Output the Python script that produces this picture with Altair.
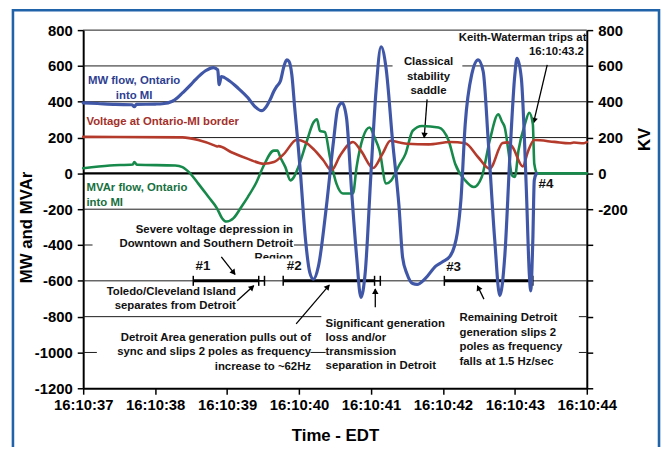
import math
import altair as alt
import pandas as pd

# ---------------- data ----------------
# MW flow, Ontario into MI (blue)
mw_t = [37.00, 37.20, 37.45, 37.68, 37.71, 37.74, 38.00, 38.10, 38.24, 38.31, 38.38, 38.50,
        38.56, 38.70, 38.81, 38.87, 38.89, 38.92, 39.03, 39.15, 39.29, 39.38, 39.48, 39.55,
        39.60, 39.65, 39.69, 39.74, 39.79, 39.83, 39.86, 39.90, 39.94, 39.99, 40.02, 40.09,
        40.15, 40.20, 40.27, 40.38, 40.48, 40.54, 40.60, 40.66, 40.73, 40.80, 40.86, 40.92,
        41.00, 41.07, 41.14, 41.21, 41.30, 41.39, 41.44, 41.50, 41.58, 41.64, 41.76, 41.90,
        41.99, 42.10, 42.16, 42.20, 42.25, 42.31, 42.40, 42.49, 42.56, 42.63, 42.72, 42.79,
        42.86, 42.93, 43.00, 43.03, 43.09, 43.16, 43.20, 43.22, 43.25, 43.27, 43.30]
mw_v = [394, 390, 385, 383, 372, 385, 387, 389, 403, 422, 449, 497,
        523, 573, 591, 578, 495, 541, 517, 477, 422, 376, 350, 376,
        413, 459, 486, 514, 597, 634, 625, 551, 366, 146, 0, -370,
        -554, -591, -518, -186, 182, 366, 394, 311, -94, -462, -692, -554,
        0, 459, 707, 587, 182, -186, -470, -560, -615, -620, -585, -518,
        -495, -462, -407, -333, -150, 275, 551, 634, 569, 182, -370, -683,
        -462, 90, 551, 643, 532, -94, -554, -656, -370, -39, 0]

# Voltage at Ontario-MI border (red, KV)
kv_t = [37.00, 38.38, 38.60, 38.83, 38.86, 38.88, 39.06, 39.29, 39.51, 39.65, 39.79, 39.97,
        40.09, 40.20, 40.34, 40.45, 40.57, 40.75, 40.86, 41.03, 41.16, 41.27, 41.40, 41.50,
        41.80, 42.10, 42.31, 42.49, 42.65, 42.83, 42.90, 42.97, 43.11, 43.18, 43.27, 43.55,
        43.76, 43.82, 43.96, 44.00]
kv_v = [204, 201, 186, 155, 150, 152, 118, 81, 54, 63, 109, 188,
        173, 136, 72, 17, 99, 175, 127, 30, 109, 182, 172, 165,
        162, 175, 168, 90, 26, 170, 173, 146, 39, 120, 186, 176,
        168, 172, 168, 175]

# MVAr flow, Ontario into MI (green)
mvar_t = [37.00, 37.37, 37.69, 37.71, 37.75, 38.28, 38.38, 38.47, 38.60, 38.74, 38.86, 38.93,
          38.99, 39.09, 39.20, 39.29, 39.41, 39.51, 39.65, 39.70, 39.74, 39.81, 39.88, 39.93,
          39.99, 40.11, 40.20, 40.25, 40.29, 40.36, 40.43, 40.52, 40.61, 40.75, 40.80, 40.89,
          40.98, 41.05, 41.12, 41.21, 41.28, 41.39, 41.48, 41.58, 41.71, 41.94, 42.08, 42.17,
          42.31, 42.43, 42.54, 42.65, 42.77, 42.82, 42.86, 42.91, 42.96, 43.00, 43.05, 43.14,
          43.20, 43.25, 43.27, 43.31, 44.00]
mvar_v = [29, 44, 50, 63, 48, 44, 35, 7, -57, -131, -195, -250,
          -269, -250, -186, -131, -48, 44, 127, 127, 90, 35, -39, -20,
          35, 182, 284, 302, 238, 230, 90, -57, -112, -112, 35, 201,
          256, 201, 127, -57, -40, 44, 109, 238, 265, 256, 182, 54,
          -39, -76, -20, 182, 330, 290, 256, 127, -11, -20, 127, 275,
          339, 275, 54, 0, 0]

# axis ticks
x_ticks = [37, 38, 39, 40, 41, 42, 43, 44]
y_ticks = [-1200, -1000, -800, -600, -400, -200, 0, 200, 400, 600, 800]

# horizontal grid segments (broken where the reference has text boxes)
grid_level = [800, 600, 600, 400, 200, -200, -400, -400, -600, -800, -800, -1000, -1000, -1000]
grid_from = [37, 37, 42.27, 37, 37, 37, 37, 39.93, 37, 37, 43.89, 37, 40.16, 43.89]
grid_to = [44, 41.30, 44, 44, 44, 44, 37.13, 44, 44, 40.31, 44, 37.19, 40.37, 44]

# event timeline (#1, #2, #3) at -600
seg_from = [38.53, 39.78, 42.02]
seg_to = [39.44, 41.05, 43.25]
link_from = [39.44, 41.05]
link_to = [39.52, 41.13]
bar_t = [38.53, 39.44, 39.52, 39.78, 41.05, 41.13, 42.02, 43.25]

# annotation arrows (start -> end)
arr_t0 = [38.92, 39.14, 39.96, 41.06, 42.57, 41.78, 43.45]
arr_v0 = [-466, -711, -840, -748, -702, 413, 606]
arr_t1 = [39.11, 39.37, 40.42, 41.06, 42.48, 41.74, 43.26]
arr_v1 = [-564, -628, -624, -646, -628, 200, 283]

# annotation texts, one row per line
ann_text = ["MW flow, Ontario", "into MI",
            "Voltage at Ontario-MI border",
            "MVAr flow, Ontario", "into MI",
            "Severe voltage depression in", "Downtown and Southern Detroit", "Region",
            "Toledo/Cleveland Island", "separates from Detroit",
            "Detroit Area generation pulls out of", "sync and slips 2 poles as frequency", "increase to ~62Hz",
            "Significant generation", "loss and/or", "transmission", "separation in Detroit",
            "Remaining Detroit", "generation slips 2", "poles as frequency", "falls at 1.5 Hz/sec",
            "Classical", "stability", "saddle",
            "Keith-Waterman trips at", "16:10:43.2",
            "#1", "#2", "#3", "#4"]
ann_t = [37.708, 37.708, 37.045, 37.045, 37.045,
         39.916, 39.916, 39.916, 39.122, 39.122,
         40.167, 40.167, 40.167,
         40.369, 40.369, 40.369, 40.369,
         42.230, 42.230, 42.230, 42.230,
         41.80, 41.80, 41.80,
         43.995, 43.96,
         38.664, 39.933, 42.148, 43.432]
ann_v = [514, 434, 287, -81, -164,
         -315, -394, -473, -661, -742,
         -917, -1000, -1079,
         -840, -917, -996, -1076,
         -808, -890, -969, -1051,
         619, 538, 459,
         757, 676,
         -518, -518, -523, -57]
ann_align = ["center", "center", "left", "left", "left",
             "right", "right", "right", "right", "right",
             "right", "right", "right",
             "left", "left", "left", "left",
             "left", "left", "left", "left",
             "center", "center", "center",
             "right", "right",
             "center", "center", "center", "center"]
ann_color = ["#2f3f92", "#2f3f92", "#a4302a", "#177040", "#177040"] + ["#111111"] * 25
ann_size = [11.5] * 26 + [13.5] * 4

# white patch hiding the lower half of "Region" (as in the reference)
mask_t0, mask_t1, mask_v0, mask_v1 = [39.32], [39.97], [-476], [-516]

# ---------------- chart ----------------
W, H = 509, 362
FONT = "Liberation Sans"
xs = alt.Scale(domain=[37, 44], nice=False, zero=False)
ys = alt.Scale(domain=[-1200, 800], nice=False, zero=False)

x_axis = alt.Axis(values=x_ticks, labelExpr="'16:10:' + datum.value", title="Time - EDT",
                  grid=False, domainColor="black", domainWidth=2, tickColor="black",
                  tickWidth=1.5, tickSize=6, labelFont=FONT, labelFontSize=15,
                  labelFontWeight="bold", labelColor="black", labelPadding=3,
                  labelFlush=False, labelOverlap=False,
                  titleFont=FONT, titleFontSize=17, titleFontWeight="bold",
                  titleColor="black", titleY=40, titleBaseline="top")
y_axis = alt.Axis(values=y_ticks, labelExpr="'' + datum.value", orient="left", title="MW and MVAr",
                  grid=False, domainColor="black", domainWidth=2, tickColor="black",
                  tickWidth=1.5, tickSize=6, labelFont=FONT, labelFontSize=15,
                  labelFontWeight="bold", labelColor="black", labelPadding=5,
                  labelOverlap=False,
                  titleFont=FONT, titleFontSize=17, titleFontWeight="bold", titleColor="black",
                  titleAngle=270, titleX=-57, titleY=199, titleAlign="center",
                  titleBaseline="middle")
y_axis_r = alt.Axis(values=y_ticks, labelExpr="datum.value < -300 ? '' : '' + datum.value",
                    orient="right", title="KV",
                    grid=False, domainColor="black", domainWidth=2, tickColor="black",
                    tickWidth=1.5, tickSize=6, labelFont=FONT, labelFontSize=15,
                    labelFontWeight="bold", labelColor="black", labelPadding=5,
                    labelOverlap=False,
                    titleFont=FONT, titleFontSize=17, titleFontWeight="bold", titleColor="black",
                    titleAngle=270, titleX=58, titleY=110, titleAlign="center",
                    titleBaseline="middle")


def X(field="t"):
    return alt.X(f"{field}:Q", scale=xs, axis=x_axis)


def Y(field="v", axis=y_axis):
    return alt.Y(f"{field}:Q", scale=ys, axis=axis)


grid_df = pd.DataFrame({"v": grid_level, "t0": grid_from, "t1": grid_to})
grid = alt.Chart(grid_df).mark_rule(color="#1a1a1a", strokeWidth=1).encode(
    x=X("t0"), x2="t1", y=Y())

zero = alt.Chart(pd.DataFrame({"v": [0], "t0": [37], "t1": [44]})).mark_rule(
    color="black", strokeWidth=2.2).encode(x=X("t0"), x2="t1", y=Y())

seg_df = pd.DataFrame({"t0": seg_from, "t1": seg_to, "v": [-600] * len(seg_from)})
segs = alt.Chart(seg_df).mark_rule(color="black", strokeWidth=3).encode(
    x=X("t0"), x2="t1", y=Y())
link_df = pd.DataFrame({"t0": link_from, "t1": link_to, "v": [-600] * len(link_from)})
links = alt.Chart(link_df).mark_rule(color="black", strokeWidth=1.5).encode(
    x=X("t0"), x2="t1", y=Y())
bar_df = pd.DataFrame({"t": bar_t, "v0": [-628] * len(bar_t), "v1": [-572] * len(bar_t)})
bars = alt.Chart(bar_df).mark_rule(color="black", strokeWidth=1.5).encode(
    x=X(), y=Y("v0"), y2="v1")

# arrows
pxt, pxv = W / 7.0, H / 2000.0
heads = []
for a, b, c, d in zip(arr_t0, arr_v0, arr_t1, arr_v1):
    dxp = (c - a) * pxt
    dyp = -(d - b) * pxv
    ln = math.hypot(dxp, dyp)
    ang = math.degrees(math.atan2(dxp, -dyp)) % 360
    back = 3.0 / ln
    heads.append({"t": c - (c - a) * back, "v": d - (d - b) * back, "ang": ang})
arr_df = pd.DataFrame({"t0": arr_t0, "v0": arr_v0, "t1": arr_t1, "v1": arr_v1})
arrows = alt.Chart(arr_df).mark_rule(color="black", strokeWidth=1.3).encode(
    x=X("t0"), x2="t1", y=Y("v0"), y2="v1")
head_layers = [
    alt.Chart(pd.DataFrame([h])).mark_point(shape="triangle", filled=True, color="black",
                                             size=42, opacity=1, angle=h["ang"]).encode(
        x=X(), y=Y())
    for h in heads]

ann_df = pd.DataFrame({"text": ann_text, "t": ann_t, "v": ann_v, "align": ann_align,
                       "color": ann_color, "size": ann_size})
is_hash = ann_df["text"].str.startswith("#")
texts = []
for al in ["left", "center", "right"]:
    sub = ann_df[(ann_df["align"] == al) & ~is_hash]
    texts.append(alt.Chart(sub).mark_text(align=al, baseline="middle", font=FONT,
                                          fontWeight="bold").encode(
        x=X(), y=Y(), text="text:N", color=alt.Color("color:N", scale=None),
        size=alt.Size("size:Q", scale=None)))
hashes = alt.Chart(ann_df[is_hash]).mark_text(align="center", baseline="middle", font=FONT,
                                              fontWeight="bold").encode(
    x=X(), y=Y(), text="text:N", color=alt.Color("color:N", scale=None),
    size=alt.Size("size:Q", scale=None))

mask = alt.Chart(pd.DataFrame({"t0": mask_t0, "t1": mask_t1, "v0": mask_v0, "v1": mask_v1})
                 ).mark_rect(color="white").encode(x=X("t0"), x2="t1", y=Y("v0"), y2="v1")


def series(ts, vs, color, w):
    return alt.Chart(pd.DataFrame({"t": ts, "v": vs})).mark_line(
        interpolate="monotone", color=color, strokeWidth=w, strokeJoin="round",
        strokeCap="round").encode(x=X(), y=Y())


green = series(mvar_t, mvar_v, "#17894a", 2.6)
red = series(kv_t, kv_v, "#b43a2c", 2.6)
blue = series(mw_t, mw_v, "#4057a8", 3.2)

frame = alt.Chart(pd.DataFrame({"k": [0]})).mark_rect(
    fillOpacity=0, stroke="#2063a9", strokeWidth=2.6).encode(
    x=alt.value(-71), x2=alt.value(582), y=alt.value(-20), y2=alt.value(440))

inner = alt.layer(grid, zero, segs, links, bars, *texts, mask, hashes, arrows, *head_layers,
                  green, red, blue, frame)

right = alt.Chart(pd.DataFrame({"t": [40], "v": [0]})).mark_point(opacity=0).encode(
    x=X(), y=Y("v", y_axis_r))

chart = alt.layer(inner, right).resolve_scale(y="independent").properties(
    width=W, height=H,
    padding={"left": 76, "top": 20, "right": 75, "bottom": 57},
    autosize=alt.AutoSizeParams(type="none"),
    background="white",
).configure_view(stroke=None)

chart.save("out.html", embed_options={"renderer": "svg", "actions": False})
